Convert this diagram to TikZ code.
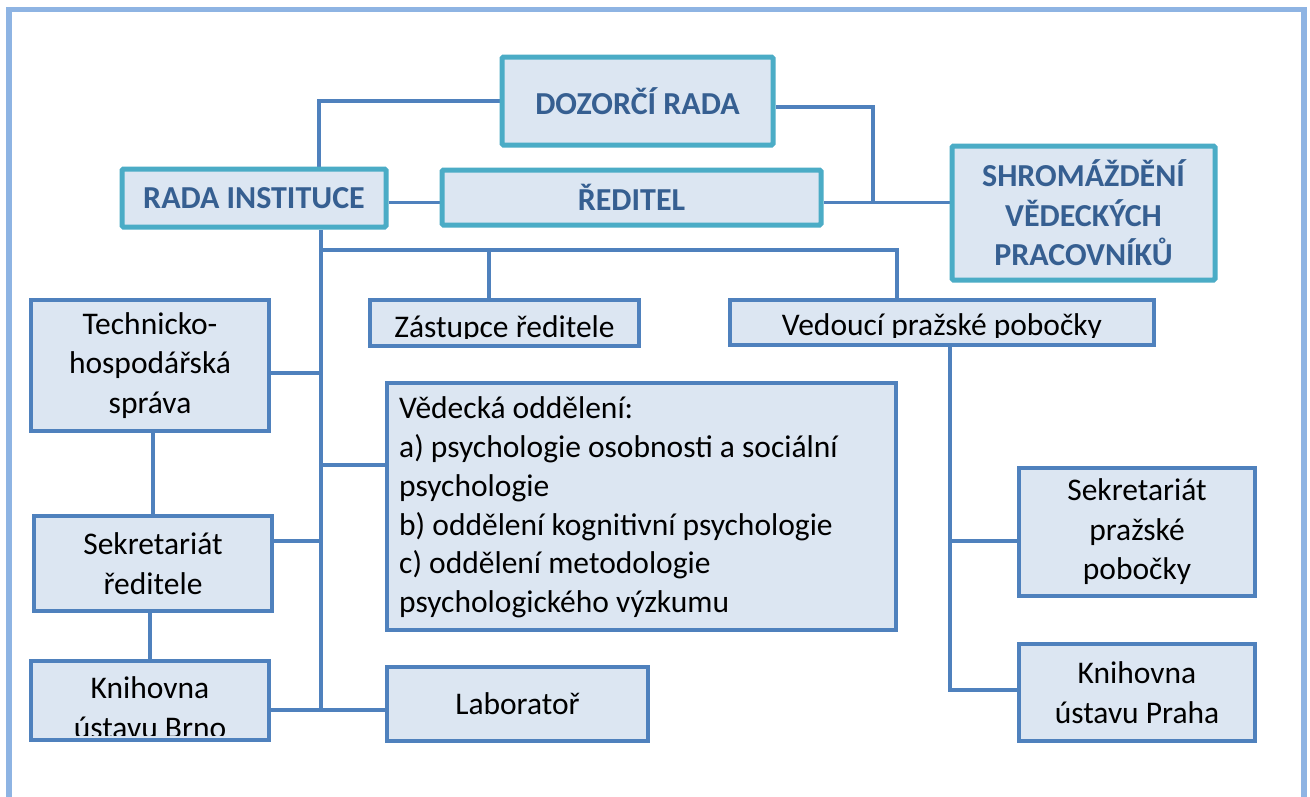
\documentclass[tikz,border=0pt]{standalone}
\usepackage{fontspec}
\setmainfont{Carlito}
\usetikzlibrary{calc,backgrounds}
\definecolor{boxfill}{HTML}{DCE6F2}
\definecolor{tealline}{HTML}{4BACC6}
\definecolor{boxblue}{HTML}{4F81BD}
\definecolor{headblue}{HTML}{365F91}
\definecolor{framecol}{HTML}{8EB4E3}
\tikzset{
  tealbox/.style={draw=tealline, line width=5pt, fill=boxfill, rounded corners=1.5pt, inner sep=0pt,
    font=\bfseries\fontsize{32}{39.5}\selectfont, text=headblue, align=center},
  bluebox/.style={draw=boxblue, line width=4pt, fill=boxfill, inner sep=0pt,
    font=\fontsize{31.5}{39.5}\selectfont, align=center},
  txt/.style={inner sep=0pt, font=\fontsize{31.5}{39.5}\selectfont},
  conn/.style={draw=boxblue, line width=3.5pt},
  framestyle/.style={draw=framecol, line width=5.5pt}
}
\begin{document}
\begin{tikzpicture}[x=1pt,y=-1pt]
\useasboundingbox (0,0) rectangle (1310,796);
\clip (0,0) rectangle (1310,796);
\draw[framestyle] (9,9.5) rectangle (1304,900);

% top level
\node[tealbox, minimum width=271pt, minimum height=88pt] (dozor) at (637.5,101) {DOZORČÍ RADA};
\node[tealbox, minimum width=379pt, minimum height=55pt] (reditel) at (631.5,197.5) {ŘEDITEL};
\node[tealbox, minimum width=264pt, minimum height=58pt] (rada) at (254,198) {RADA INSTITUCE};
\node[tealbox, minimum width=263pt, minimum height=134pt] (shrom) at (1083.5,213) {SHROMÁŽDĚNÍ\\VĚDECKÝCH\\PRACOVNÍKŮ};

% left column
\node[bluebox, minimum width=238pt, minimum height=131pt] (tech) at (150,365.5) {Technicko-\\hospodářská\\správa};
\node[bluebox, minimum width=238pt, minimum height=95pt] (sekr) at (153,563.5) {Sekretariát\\ředitele};
\node[bluebox, minimum width=238pt, minimum height=79pt] (knihB) at (150,700.5) {};
\begin{scope}
  \clip (31,661) rectangle (269,735);
  \node[txt, anchor=base] (knihBa) at (150,698) {Knihovna};
  \node[txt, anchor=base] (knihBb) at (150,738) {ústavu Brno};
\end{scope}

% middle
\node[bluebox, minimum width=269pt, minimum height=46pt] (zast) at (504.5,323) {};
\begin{scope}
  \clip (370,300) rectangle (639,338);
  \node[txt, anchor=base] (zastt) at (504.5,337) {Zástupce ředitele};
\end{scope}
\node[bluebox, minimum width=424pt, minimum height=45pt] (ved) at (942,322.5) {};
\begin{scope}
  \clip (730,300) rectangle (1154,337.5);
  \node[txt, anchor=base] (vedt) at (942,335) {Vedoucí pražské pobočky};
\end{scope}
\node[bluebox, minimum width=509pt, minimum height=247pt] (vedecka) at (641.5,506.5) {};
\node[txt, align=left, anchor=west, font=\fontsize{31.5}{38.8}\selectfont] (vedeckat) at ([xshift=14pt,yshift=-1pt]vedecka.west)
  {Vědecká oddělení:\\a) psychologie osobnosti a sociální\\psychologie\\b) oddělení kognitivní psychologie\\c) oddělení metodologie\\psychologického výzkumu};
\node[bluebox, minimum width=261pt, minimum height=74pt] (lab) at (517.5,704) {Laboratoř};

% right column
\node[bluebox, minimum width=236pt, minimum height=128pt] (sekrP) at (1137,532) {Sekretariát\\pražské\\pobočky};
\node[bluebox, minimum width=236pt, minimum height=97pt] (knihP) at (1137,692.5) {Knihovna\\ústavu Praha};

% junction coordinates
\coordinate (jL) at (319,0);
\coordinate (jR) at (873,202.5);
\coordinate (tB) at (321,710);
\coordinate (t1) at (321,250);
\coordinate (t2) at (897,250);
\coordinate (t3) at (489,250);
\coordinate (p1) at (950,690);
\path ([yshift=-7.5pt]tech.east) coordinate (a1);
\path ([yshift=41.5pt]vedecka.west) coordinate (a2);
\path ([yshift=22.5pt]sekr.east) coordinate (a3);
\path ([yshift=-9pt]sekrP.west) coordinate (a4);

\begin{pgfonlayer}{background}
\fill[white] (0,0) rectangle (1310,796);
\draw[conn] (dozor.west) -| (rada.north -| jL);
\draw[conn] ([yshift=-6pt]dozor.east) -| (jR);
\draw[conn] (reditel.east |- jR) -- (shrom.west |- jR);
\draw[conn] (rada.east |- jR) -- (reditel.west |- jR);
\draw[conn] (rada.south -| tB) -- (tB);
\draw[conn] (t1) -| (ved.north -| t2);
\draw[conn] (t3) -- (zast.north -| t3);
\draw[conn] (a1) -- (a1 -| tB);
\draw[conn] (a2 -| tB) -- (a2);
\draw[conn] (a3) -- (a3 -| tB);
\draw[conn] (knihB.east |- tB) -- (lab.west |- tB);
\draw[conn] ([xshift=3pt]tech.south) -- ([xshift=3pt]tech.south |- sekr.north);
\draw[conn] (knihB.north |- sekr.south) -- (knihB.north);
\draw[conn] (ved.south -| p1) |- (knihP.west |- p1);
\draw[conn] (a4 -| p1) -- (a4);
\end{pgfonlayer}
\end{tikzpicture}
\end{document}
